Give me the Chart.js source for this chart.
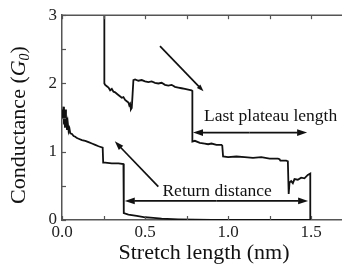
<!DOCTYPE html>
<html><head><meta charset="utf-8">
<script src="https://cdn.jsdelivr.net/npm/chart.js@4/dist/chart.umd.min.js"></script>
<style>html,body{margin:0;padding:0;background:#fff}#w{width:342px;height:267px}</style>
</head><body><div id="w"><canvas id="c" width="342" height="267"></canvas></div>
<script>
// Trace that starts at x = 0 (lower curve)
const traceAX = [0.0,0.003,0.006,0.009,0.012,0.015,0.018,0.021,0.024,0.027,0.03,0.035,0.04,0.045,0.05,0.06,0.07,0.08,0.09,0.10,0.12,0.14,0.16,0.18,0.20,0.22,0.245,0.248,0.26,0.30,0.34,0.37,0.372,0.40,0.45,0.50,0.55,0.60,0.70,0.80,0.90,1.0,1.2,1.4,1.5];
const traceAG = [1.55,1.62,1.48,1.66,1.40,1.60,1.35,1.62,1.38,1.50,1.32,1.42,1.30,1.34,1.27,1.26,1.23,1.22,1.20,1.19,1.17,1.16,1.14,1.12,1.10,1.08,1.06,0.84,0.84,0.83,0.83,0.82,0.10,0.08,0.06,0.04,0.03,0.02,0.01,0.005,0.003,0.0,0.0,0.0,0.0];
// Trace that starts at x = 0.255 (upper curve)
const traceBX = [0.255,0.255,0.26,0.27,0.28,0.29,0.30,0.31,0.32,0.33,0.345,0.36,0.37,0.38,0.39,0.40,0.405,0.41,0.415,0.42,0.425,0.43,0.44,0.46,0.48,0.50,0.52,0.54,0.56,0.58,0.60,0.62,0.64,0.66,0.68,0.70,0.72,0.74,0.76,0.78,0.785,0.785,0.80,0.83,0.86,0.88,0.90,0.93,0.96,0.965,0.97,1.00,1.05,1.10,1.15,1.20,1.25,1.30,1.31,1.315,1.35,1.36,1.365,1.37,1.38,1.39,1.40,1.42,1.44,1.46,1.48,1.495,1.495];
const traceBG = [3.0,2.0,1.98,1.96,1.94,1.90,1.92,1.88,1.87,1.85,1.82,1.79,1.80,1.76,1.74,1.72,1.68,1.70,1.62,1.64,1.84,2.05,2.06,2.04,2.05,2.03,2.02,2.03,2.01,2.00,2.01,1.98,1.97,1.98,1.95,1.94,1.93,1.92,1.91,1.90,1.89,1.15,1.16,1.13,1.12,1.11,1.12,1.10,1.10,1.09,0.93,0.92,0.93,0.92,0.91,0.92,0.90,0.90,0.89,0.87,0.87,0.86,0.38,0.55,0.57,0.54,0.60,0.59,0.62,0.61,0.66,0.68,0.0];
// Tick values
const xMajorTicks = [0, 0.5, 1.0, 1.5];
const xMinorTicks = [0.25, 0.75, 1.25];
const yMajorTicks = [0, 1, 2, 3];
const yMinorTicks = [0.5, 1.5, 2.5];
const xTitle = 'Stretch length (nm)';
const yTitleParts = ['Conductance (', 'G', '0', ')'];

// Annotations (data units)
const arrows = [
  {from:[0.590,2.547], to:[0.852,1.885], head:7},
  {from:[0.580,0.490], to:[0.318,1.152], head:9},
  {from:[1.13,1.28], to:[0.789,1.28], head:10},
  {from:[1.13,1.28], to:[1.476,1.28], head:10},
  {from:[0.93,0.28], to:[0.378,0.28], head:10},
  {from:[0.93,0.28], to:[1.482,0.28], head:10}
];
const notes = [
  {text:'Last plateau length', x:1.256, y:1.456},
  {text:'Return distance', x:0.934, y:0.349}
];

const SERIF = '"Liberation Serif","DejaVu Serif",serif';
const toPts = (xs, ys) => xs.map((x,i)=>({x, y: ys[i]}));

const decor = {
  id:'decor',
  afterDraw(chart){
    const ctx = chart.ctx, a = chart.chartArea;
    const xs = chart.scales.x, ys = chart.scales.y;
    ctx.save();
    ctx.strokeStyle = '#555'; ctx.lineWidth = 1.5;
    ctx.beginPath(); ctx.moveTo(a.left, a.top); ctx.lineTo(a.right+1, a.top); ctx.stroke();
    ctx.lineWidth = 1.2;
    const tl = 4;
    [...xMajorTicks, ...xMinorTicks].forEach(v=>{
      const px = Math.round(xs.getPixelForValue(v))+0.5;
      ctx.beginPath(); ctx.moveTo(px, a.bottom); ctx.lineTo(px, a.bottom-tl); ctx.stroke();
      ctx.beginPath(); ctx.moveTo(px, a.top); ctx.lineTo(px, a.top+tl); ctx.stroke();
    });
    [...yMajorTicks, ...yMinorTicks].forEach(v=>{
      const py = Math.round(ys.getPixelForValue(v))+0.5;
      ctx.beginPath(); ctx.moveTo(a.left, py); ctx.lineTo(a.left+tl, py); ctx.stroke();
    });
    ctx.strokeStyle = '#111'; ctx.fillStyle = '#111'; ctx.lineWidth = 1.7;
    arrows.forEach(ar=>{
      const x1 = xs.getPixelForValue(ar.from[0]), y1 = ys.getPixelForValue(ar.from[1]);
      const x2 = xs.getPixelForValue(ar.to[0]), y2 = ys.getPixelForValue(ar.to[1]);
      const ang = Math.atan2(y2-y1, x2-x1), h = ar.head, w = h*0.34;
      const bx = x2 - h*Math.cos(ang), by = y2 - h*Math.sin(ang);
      ctx.beginPath(); ctx.moveTo(x1,y1); ctx.lineTo(bx+0.5*Math.cos(ang), by+0.5*Math.sin(ang)); ctx.stroke();
      ctx.beginPath();
      ctx.moveTo(x2,y2);
      ctx.lineTo(bx - w*Math.sin(ang), by + w*Math.cos(ang));
      ctx.lineTo(bx + w*Math.sin(ang), by - w*Math.cos(ang));
      ctx.closePath(); ctx.fill();
    });
    ctx.font = '17.5px ' + SERIF; ctx.textAlign = 'center'; ctx.textBaseline = 'alphabetic';
    notes.forEach(n=>{
      ctx.fillText(n.text, xs.getPixelForValue(n.x), ys.getPixelForValue(n.y));
    });
    ctx.font = '22px ' + SERIF; ctx.textAlign='center';
    ctx.fillText(xTitle, 204, 259);
    ctx.translate(25, 125); ctx.rotate(-Math.PI/2);
    const fN = '22px ' + SERIF, fI = 'italic 22px ' + SERIF, fS = 'italic 14px ' + SERIF;
    ctx.textAlign = 'left';
    const wParts = [];
    ctx.font = fN; wParts.push(ctx.measureText(yTitleParts[0]).width);
    ctx.font = fI; wParts.push(ctx.measureText(yTitleParts[1]).width);
    ctx.font = fS; wParts.push(ctx.measureText(yTitleParts[2]).width);
    ctx.font = fN; wParts.push(ctx.measureText(yTitleParts[3]).width);
    const tot = wParts.reduce((s,v)=>s+v,0);
    let cx = -tot/2;
    ctx.font = fN; ctx.fillText(yTitleParts[0], cx, 0); cx += wParts[0];
    ctx.font = fI; ctx.fillText(yTitleParts[1], cx, 0); cx += wParts[1];
    ctx.font = fS; ctx.fillText(yTitleParts[2], cx, 4); cx += wParts[2];
    ctx.font = fN; ctx.fillText(yTitleParts[3], cx, 0);
    ctx.restore();
  }
};

new Chart(document.getElementById('c'), {
  type:'scatter',
  data:{datasets:[
    {data: toPts(traceAX, traceAG), showLine:true, borderColor:'#111', borderWidth:1.8, pointRadius:0, tension:0, fill:false},
    {data: toPts(traceBX, traceBG), showLine:true, borderColor:'#111', borderWidth:1.8, pointRadius:0, tension:0, fill:false}
  ]},
  options:{
    responsive:false, animation:false, devicePixelRatio:1,
    layout:{padding:{left:0, top:14, right:1, bottom:0}},
    plugins:{legend:{display:false}, tooltip:{enabled:false}},
    scales:{
      x:{type:'linear', min:0, max:1.68,
        afterBuildTicks: s => { s.ticks = xMajorTicks.map(v=>({value:v})); },
        afterFit: s => { s.height = 47; },
        grid:{drawOnChartArea:false, drawTicks:false},
        border:{display:true, color:'#555', width:1.5},
        ticks:{padding:2, color:'#222', font:{family:SERIF, size:17}, callback:v=>Number(v).toFixed(1), maxRotation:0, autoSkip:false}
      },
      y:{type:'linear', min:0, max:3,
        afterBuildTicks: s => { s.ticks = yMajorTicks.map(v=>({value:v})); },
        afterFit: s => { s.width = 62; },
        grid:{drawOnChartArea:false, drawTicks:false},
        border:{display:true, color:'#555', width:1.5},
        ticks:{padding:5, color:'#222', font:{family:SERIF, size:17}, callback:v=>String(v)}
      }
    }
  },
  plugins:[decor]
});
</script></body></html>
